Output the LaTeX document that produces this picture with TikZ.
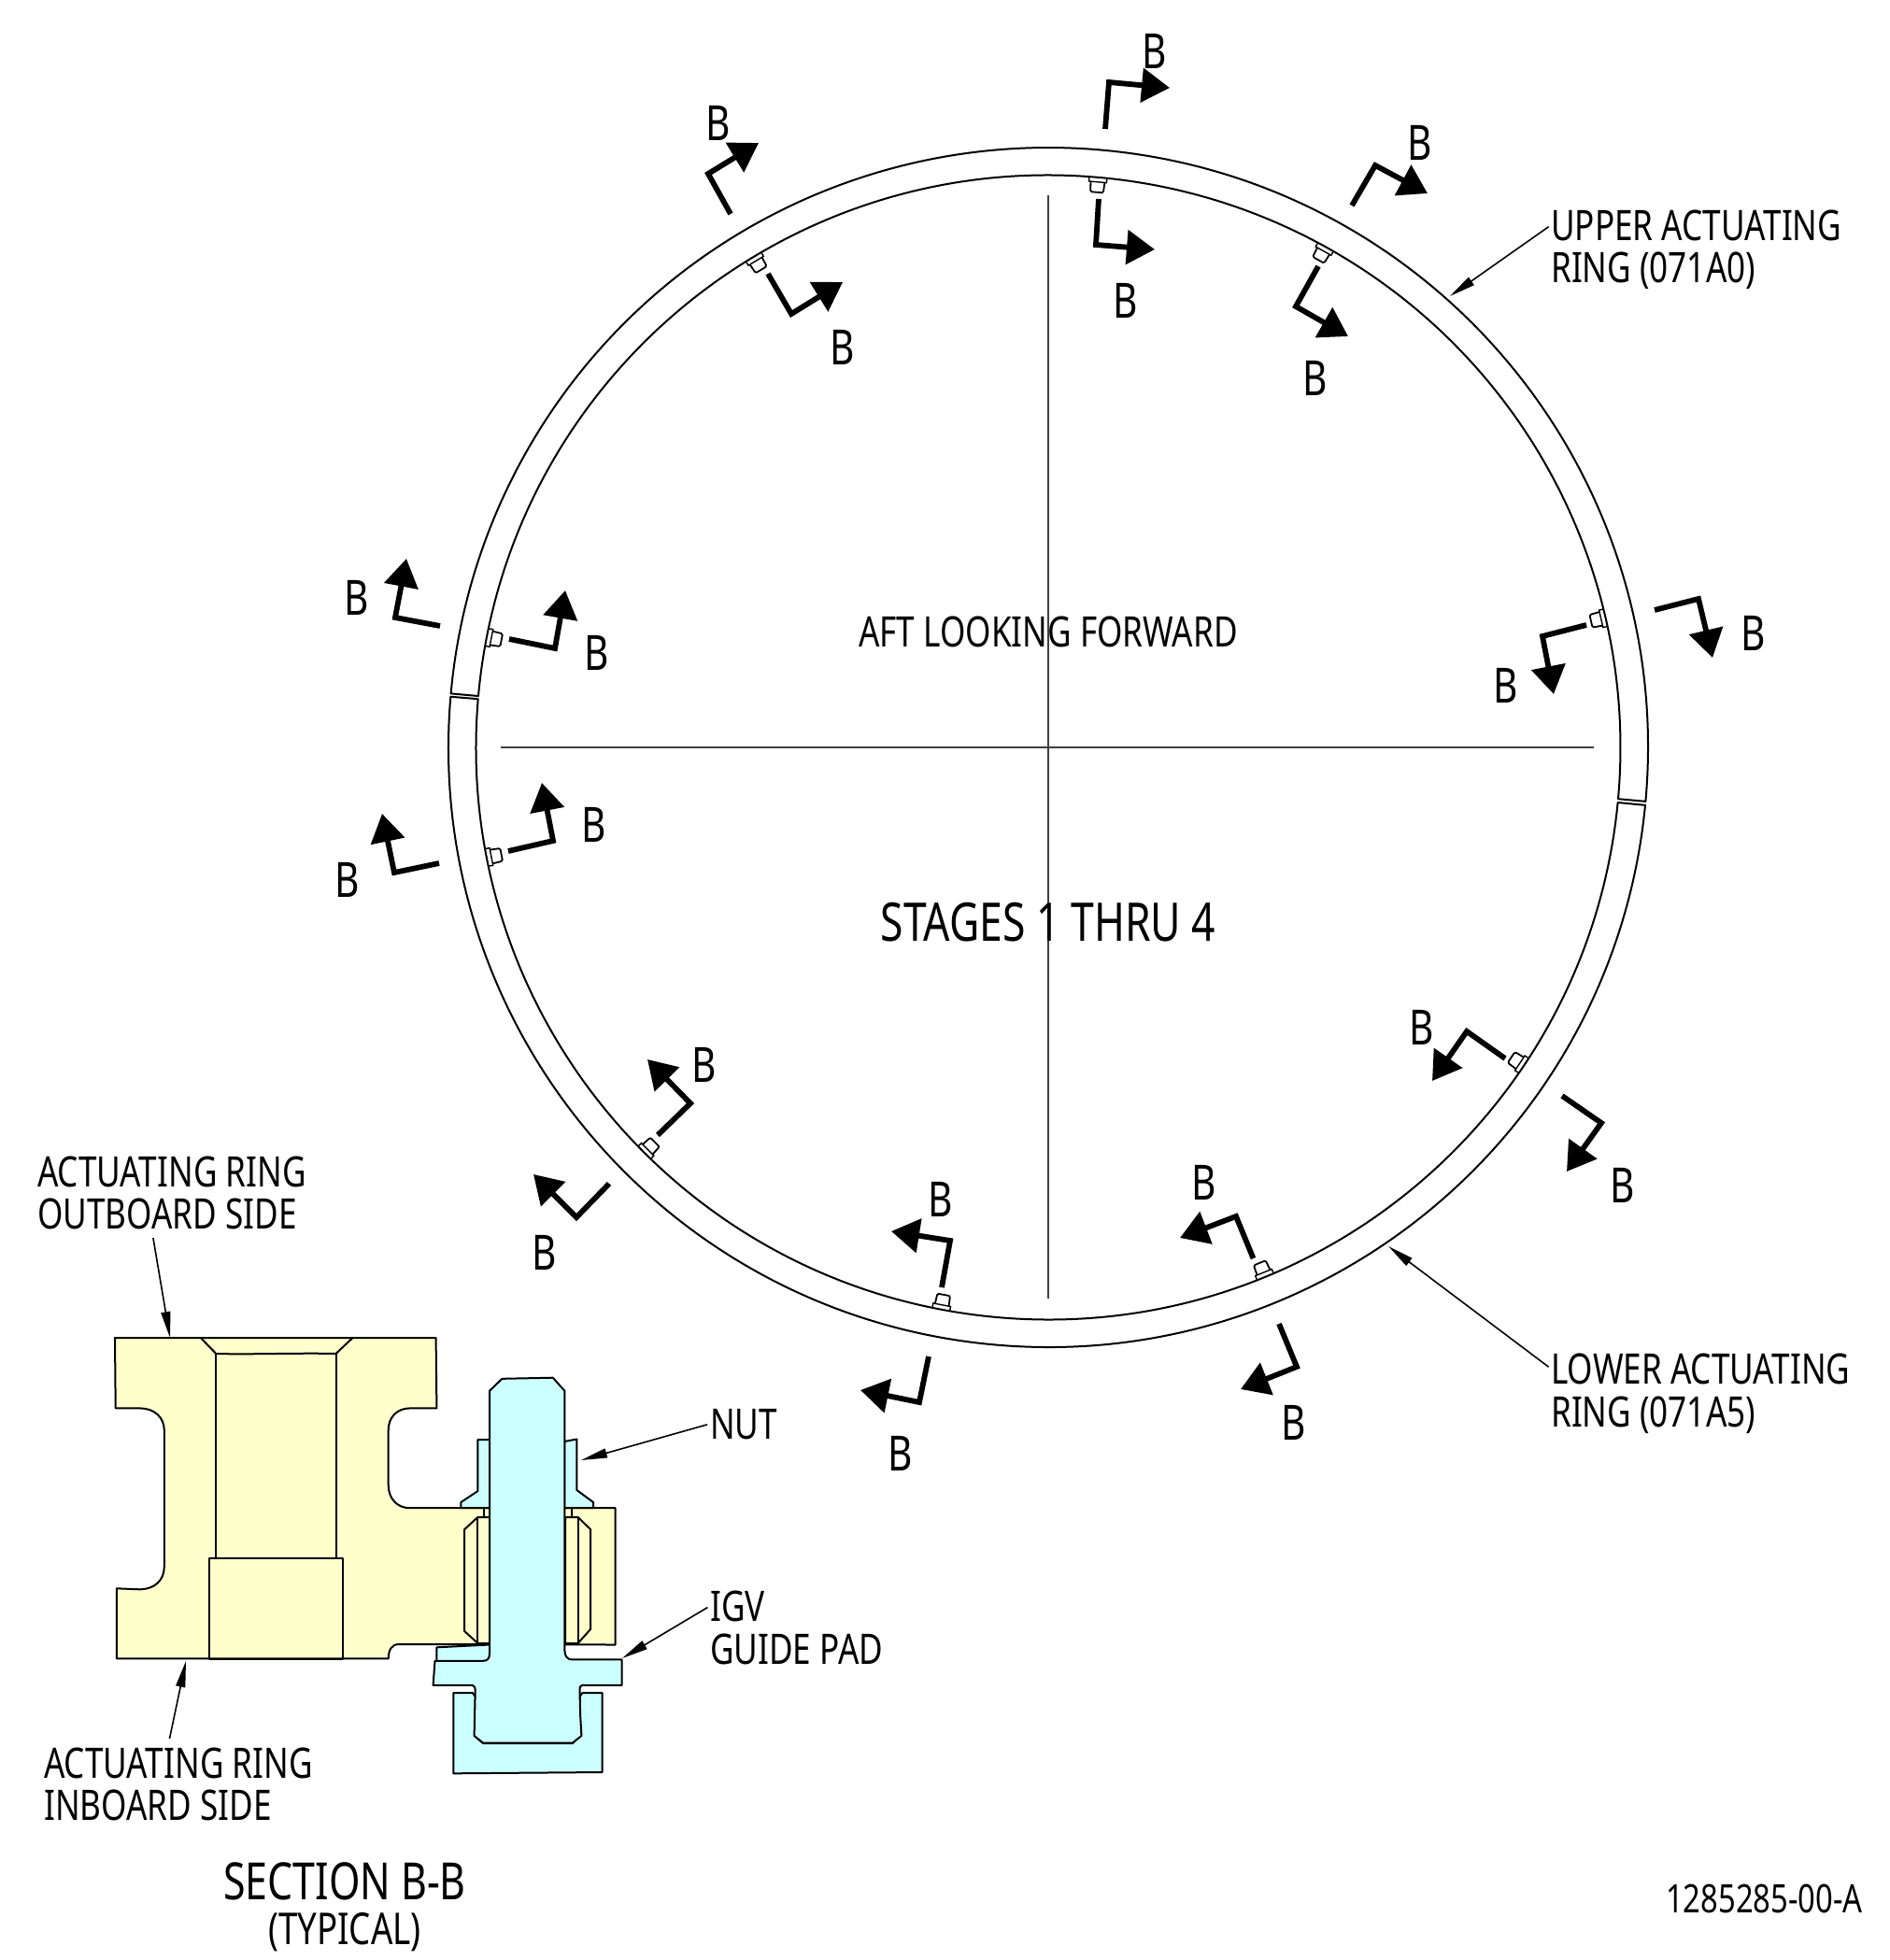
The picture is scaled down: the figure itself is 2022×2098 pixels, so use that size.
\documentclass[tikz,border=0pt]{standalone}
\usepackage{fontspec}
\setmainfont[FakeStretch=0.78]{Noto Sans}
\usetikzlibrary{%
  arrows.meta,%
  calc%
}
\definecolor{bodyyellow}{HTML}{FFFFCC}
\definecolor{boltcyan}{HTML}{CCFFFF}
\tikzset{
  cutline/.style={line width=5.8pt,-{Triangle[length=30pt,width=36pt]}},
  leader/.style={line width=1.6pt,shorten <=3pt,-{Triangle[length=28pt,width=10pt]}},
  part/.style={line width=2pt,line join=round},
  centerline/.style={line width=1.6pt,black!75},
  lab/.style={inner sep=0pt,text height=32pt,text depth=0pt,font=\fontsize{45}{45}\selectfont},
  blab/.style={inner sep=0pt,text height=37pt,text depth=0pt,font=\fontsize{52}{52}\selectfont}
}
\begin{document}
\begin{tikzpicture}[x=1pt,y=-1pt]
  \useasboundingbox (0,0) rectangle (2022,2098);
  \coordinate (c) at (1122,800);

  \draw[part] ($(c)+(-5.17:642pt)$) arc[start angle=-5.17,end angle=174.85,radius=642pt]
    -- ($(c)+(174.85:612.5pt)$) arc[start angle=174.85,end angle=-5.17,radius=612.5pt] -- cycle;
  \draw[part] ($(c)+(175.15:642pt)$) arc[start angle=175.15,end angle=354.47,radius=642pt]
    -- ($(c)+(354.47:612.5pt)$) arc[start angle=354.47,end angle=175.15,radius=612.5pt] -- cycle;

  \draw[centerline] (1122,209) -- (1122,1390);
  \draw[centerline] (536,800) -- (1706,800);

  \foreach \a in {13.1,61,85,121,168.9,191.1,225.1,259.2,292.3,326.2} {
    \begin{scope}[shift={(c)},rotate=\a]
      \draw[line width=1.4pt] (612.5pt,-9.5pt) -- (607.5pt,-9.5pt) -- (607.5pt,9.5pt) -- (612.5pt,9.5pt);
      \draw[line width=1.8pt,line join=round] (607.5pt,-7.5pt) -- (598pt,-7pt)
        -- (596.5pt,-5.5pt) -- (596.5pt,5.5pt) -- (598pt,7pt) -- (607.5pt,7.5pt);
    \end{scope}
  }

  \foreach \s/\k/\t/\l [count=\n] in {
    {782,229}/{758,186}/{812,153}/{769,132},
    {822,293}/{847,336}/{902,302}/{902,372},
    {1183,138}/{1187,88}/{1252,94}/{1236,55},
    {1176,213}/{1173,262}/{1236,267}/{1205,322},
    {1411,285}/{1387,328}/{1443,360}/{1408,405},
    {1447,220}/{1472,177}/{1528,207}/{1520,153},
    {1698,669}/{1651,681}/{1663,743}/{1612,734},
    {1771,653}/{1818,641}/{1833,704}/{1877,678},
    {471,670}/{423,661}/{435,598}/{382,640},
    {545,684}/{594,694}/{605,632}/{639,699},
    {470,924}/{422,934}/{409,871}/{372,942},
    {544,911}/{592,900}/{580,838}/{636,883},
    {1611,1133}/{1570,1104}/{1533,1157}/{1522,1100},
    {1672,1173}/{1714,1202}/{1677,1254}/{1737,1269},
    {1341.5,1347}/{1323,1302}/{1263,1325}/{1289,1266},
    {1369,1417}/{1388,1463}/{1328,1487}/{1384.5,1523},
    {1008,1378}/{1017,1328}/{954,1318}/{1007,1284},
    {994,1452}/{984,1501}/{921,1488}/{964,1556},
    {704,1215}/{739,1181}/{693,1134}/{754,1140},
    {652,1267}/{617,1303}/{571,1257}/{583,1341}} {
    \coordinate (cutS\n) at (\s);
    \coordinate (cutK\n) at (\k);
    \coordinate (cutT\n) at (\t);
    \draw[cutline] (cutS\n) -- (cutK\n) -- (cutT\n);
    \node[blab] (labB\n) at (\l) {B};
  }

  \draw[part,fill=bodyyellow] (123,1432) -- (466.6,1432) -- (467.4,1507.4) -- (438.7,1507.4)
    .. controls (425,1507.4) and (415.7,1517) .. (415.7,1531) -- (415.7,1589.4)
    .. controls (415.7,1604) and (425,1614.2) .. (438.7,1614.2) -- (658.7,1614.2) -- (658.7,1760.5)
    -- (427.2,1760) .. controls (419,1760) and (416,1766) .. (415.7,1775.3) -- (124.9,1775.3)
    -- (124.9,1700.3) -- (149.8,1701.3) .. controls (165,1701) and (175.8,1692) .. (175.8,1677)
    -- (175.8,1531) .. controls (175.8,1517) and (165,1507.4) .. (149.8,1507.4) -- (123.7,1507.4) -- cycle;
  \draw[part] (214.8,1432) -- (231.3,1449) .. controls (270,1450) and (320,1448) .. (359.5,1449) -- (377.5,1432);
  \draw[part] (231.3,1449) -- (231.3,1668) (359.5,1449) -- (359.5,1668);
  \draw[part] (224.4,1668) rectangle (366.7,1776);

  \draw[part] (518,1614) -- (518,1624) (612,1614) -- (612,1624);
  \draw[part,fill=bodyyellow] (524,1624) -- (511.4,1624) -- (497.2,1637) -- (497.2,1746) -- (511.4,1759) -- (524,1759) -- cycle;
  \draw[part] (511.4,1624) -- (511.4,1759);
  \draw[part,fill=bodyyellow] (605,1624) -- (618.6,1624) -- (632,1637) -- (632,1744) -- (618.6,1759) -- (605,1759) -- cycle;
  \draw[part] (618.6,1624) -- (618.6,1759);

  \draw[part,fill=boltcyan] (524,1541) -- (511.4,1541) -- (511.4,1596) -- (493.4,1608) -- (493.4,1614) -- (524,1614) -- cycle;
  \draw[part,fill=boltcyan] (604,1543) -- (617.4,1540.5) -- (617.4,1595) -- (635,1608) -- (635,1614) -- (604,1614) -- cycle;
  \draw[part,fill=boltcyan] (467.4,1763.3) -- (524,1760.5) -- (524,1778) -- (467.4,1778) -- cycle;
  \draw[part,fill=boltcyan] (485.4,1812) -- (485.4,1898.3) -- (644.6,1897) -- (644.6,1812) -- (623.5,1812)
    -- (620.5,1816) -- (621,1858) -- (613,1866) -- (517,1866) -- (508,1858) -- (509,1816) -- (505.7,1812) -- cycle;
  \draw[part,fill=boltcyan] (537.4,1475.8) -- (591.8,1474.7) -- (604.4,1488.8) -- (604.4,1766.7)
    .. controls (604.4,1772) and (607,1776.4) .. (612,1776.4) -- (665.6,1776.4) -- (665.6,1803.9) -- (623,1803.9)
    .. controls (621,1804) and (620.5,1806) .. (620.5,1810) -- (621.2,1837) -- (622.4,1858) -- (612.8,1865.6)
    -- (517.1,1865.6) -- (507.6,1858) -- (508.7,1810) .. controls (508.7,1806) and (507.5,1804) .. (505.7,1803.9)
    -- (463.6,1803.9) -- (465.5,1777.8) -- (517.1,1777.8) .. controls (522,1777.8) and (524,1775) .. (524,1770)
    -- (524,1488.8) -- cycle;

  \node[lab,anchor=west] (upperA) at (1660,241) {UPPER ACTUATING};
  \node[lab,anchor=west] (upperB) at (1660,286) {RING (071A0)};
  \node[lab,anchor=west] (lowerA) at (1660,1465) {LOWER ACTUATING};
  \node[lab,anchor=west] (lowerB) at (1660,1511) {RING (071A5)};
  \node[lab,anchor=west] (outA) at (40,1254) {ACTUATING RING};
  \node[lab,anchor=west] (outB) at (40,1299) {OUTBOARD SIDE};
  \node[lab,anchor=west] (inA) at (47,1887) {ACTUATING RING};
  \node[lab,anchor=west] (inB) at (47,1932) {INBOARD SIDE};
  \node[lab,anchor=west] (nut) at (760,1524) {NUT};
  \node[lab,anchor=west] (igvA) at (760,1719) {IGV};
  \node[lab,anchor=west] (igvB) at (760,1765) {GUIDE PAD};
  \node[lab] (aft) at (1122,676) {AFT LOOKING FORWARD};
  \node[lab,text height=41pt,font=\fontsize{57}{57}\selectfont] (stages) at (1122,987) {STAGES 1 THRU 4};
  \node[lab,text height=39pt,font=\fontsize{55}{55}\selectfont] (section) at (369,2014) {SECTION B-B};
  \node[lab,text height=33pt,font=\fontsize{47}{47}\selectfont] (typical) at (369,2065) {(TYPICAL)};
  \node[lab,anchor=east,text height=30pt,font=\fontsize{42}{42}\selectfont] (drawingno) at (1994,2032) {1285285-00-A};

  \coordinate (upperTip) at (1552,317);
  \coordinate (lowerTip) at (1486,1334);
  \coordinate (outTip) at (182,1432);
  \coordinate (inTip) at (199,1778);
  \coordinate (nutTip) at (622,1563);
  \coordinate (igvTip) at (666,1775);
  \draw[leader] (upperA.west) -- (upperTip);
  \draw[leader] (lowerA.west) -- (lowerTip);
  \draw[leader,shorten <=10pt] ($(outB.south west)!0.44!(outB.south east)$) -- (outTip);
  \draw[leader,shorten <=10pt] ($(inA.north west)!0.46!(inA.north east)$) -- (inTip);
  \draw[leader] (nut.west) -- (nutTip);
  \draw[leader] (igvA.west) -- (igvTip);
\end{tikzpicture}
\end{document}
